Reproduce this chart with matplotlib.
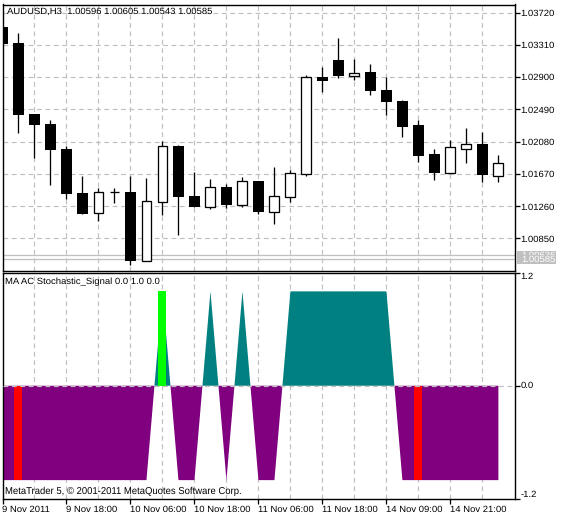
import matplotlib
matplotlib.use("Agg")
import matplotlib.pyplot as plt
from matplotlib.patches import Rectangle
import numpy as np

W, H = 567, 520
FONT = ["Liberation Sans", "DejaVu Sans"]
plt.rcParams["font.family"] = FONT
plt.rcParams["text.hinting"] = "none"

opens  = [1.03536,1.03333,1.02431,1.02304,1.01987,1.01428,1.01178,1.01436,1.01441,1.00569,1.01318,1.02020,1.01390,1.01254,1.01504,1.01280,1.01580,1.01191,1.01381,1.01669,1.02901,1.03117,1.02914,1.02964,1.02736,1.02596,1.02291,1.01923,1.01682,1.01991,1.02050,1.01648]
highs  = [1.03536,1.03460,1.02431,1.02351,1.02025,1.01648,1.01491,1.01491,1.01648,1.01618,1.02088,1.02037,1.01694,1.01606,1.01542,1.01631,1.01580,1.01758,1.01720,1.02926,1.03028,1.03396,1.03130,1.03066,1.02901,1.02609,1.02351,1.01987,1.02101,1.02253,1.02202,1.01910]
lows   = [1.03324,1.02194,1.01876,1.01529,1.01352,1.01161,1.01076,1.01305,1.00518,1.00569,1.01148,1.00894,1.01250,1.01225,1.01237,1.01250,1.01161,1.01034,1.01314,1.01644,1.02710,1.02888,1.02863,1.02672,1.02418,1.02139,1.01821,1.01593,1.01682,1.01809,1.01567,1.01567]
closes = [1.03324,1.02418,1.02291,1.01974,1.01419,1.01161,1.01436,1.01436,1.00569,1.01322,1.02020,1.01381,1.01250,1.01500,1.01275,1.01576,1.01187,1.01386,1.01678,1.02897,1.02850,1.02914,1.02947,1.02723,1.02583,1.02266,1.01898,1.01682,1.02008,1.02046,1.01656,1.01805]

signal = [-1,-1,-1,-1,-1,-1,-1,-1,-1,-1,1,-1,-1,1,-1,1,-1,-1,1,1,1,1,1,1,1,-1,-1,-1,-1,-1,-1,-1]
red_bars = [1, 26]
green_bars = [10]

price_ticks = [1.03720,1.03310,1.02900,1.02490,1.02080,1.01670,1.01260,1.00850]
indicator_ticks = [1.2, 0.0, -1.2]
time_ticks = [0, 4, 8, 12, 16, 20, 24, 28]
time_labels = ["9 Nov 2011","9 Nov 18:00","10 Nov 06:00","10 Nov 18:00","11 Nov 06:00","11 Nov 18:00","14 Nov 09:00","14 Nov 21:00"]
grid_bars = list(range(2, 32, 2))
bid_ask = [1.00636, 1.00585]
tag_labels = ["1.00636", "1.00585"]

title_main = "AUDUSD,H3  1.00596 1.00605 1.00543 1.00585"
title_sub = "MA AC Stochastic_Signal 0.0 1.0 0.0"
copyright_text = "MetaTrader 5, \u00a9 2001-2011 MetaQuotes Software Corp."

L, R = 2.5, 514.7
def rect(top, bottom):
    return [L / W, 1 - bottom / H, (R - L) / W, (bottom - top) / H]

fig = plt.figure(figsize=(W / 100, H / 100), dpi=100, facecolor="white")
ax = fig.add_axes(rect(4.5, 270.7))
sub = fig.add_axes(rect(272.5, 499.0))

PX = 0.72
GRID = "#c0c0c0"
FS = 6.8
xlim = (0.0, 32.02)

for a in (ax, sub):
    a.set_xlim(*xlim)
    for s in a.spines.values():
        s.set_linewidth(PX * 1.4)
        s.set_color("black")
    a.yaxis.tick_right()
    a.tick_params(axis="y", length=3.3, width=PX * 1.3, color="black", labelsize=FS, pad=1.0)
    a.tick_params(axis="x", length=3.3, width=PX * 1.3, color="black", labelsize=FS, pad=1.3)
    a.vlines(grid_bars, 0, 1, transform=a.get_xaxis_transform(), color=GRID,
             lw=PX * 1.2, linestyles=(0, (4, 3)), zorder=1)

# price panel
ax.set_ylim(1.00441, 1.03822)
ax.hlines(price_ticks, 0, 1, transform=ax.get_yaxis_transform(), color=GRID,
          lw=PX * 1.2, linestyles=(0, (4, 3)), zorder=1)
ax.hlines(bid_ask, 0, 1, transform=ax.get_yaxis_transform(), color="#c0c0c0", lw=PX * 1.3, zorder=1.5)
ax.set_xticks([])
ax.set_yticks(price_ticks, [f"{v:.5f}" for v in price_ticks])

x = np.arange(len(opens))
o, h, l, c = map(np.array, (opens, highs, lows, closes))
ax.vlines(x, l, h, color="black", lw=PX * 1.3, zorder=3)
up = c >= o
ax.bar(x[~up], (o - c)[~up], bottom=c[~up], width=0.66, color="black", edgecolor="black", lw=0, zorder=4)
ax.bar(x[up], (c - o)[up], bottom=o[up], width=0.62, color="white", edgecolor="black", lw=PX * 1.3, zorder=4)

ax.text((7 - L) / (R - L), 1 - 7.2 / 266.2, title_main, transform=ax.transAxes, fontsize=FS,
        ha="left", va="center", zorder=6)

# price tags: the second tag covers most of the first one
ytrans = ax.get_yaxis_transform()
px_price = (ax.get_ylim()[1] - ax.get_ylim()[0]) / 266.2
tag_h = 9.6 * px_price
tag_x = (516.7 - L) / (R - L)
tag_w = 39.3 / (R - L)
for k, (price, label) in enumerate(zip(bid_ask, tag_labels)):
    ax.add_patch(Rectangle((tag_x, price - tag_h / 2), tag_w, tag_h, transform=ytrans, clip_on=False,
                           facecolor="#c0c0c0", edgecolor="none", zorder=7 + k))
    ax.text((521 - L) / (R - L), price, label, transform=ytrans, clip_on=False, fontsize=FS,
            color="white", ha="left", va="center", zorder=7.5 + k)

# indicator panel
sub.set_ylim(-1.2, 1.2)
sig = np.array(signal, dtype=float)
sub.fill_between(x, sig, 0, where=sig > 0, interpolate=True, color="#008080", lw=0, zorder=2)
sub.fill_between(x, sig, 0, where=sig < 0, interpolate=True, color="#800080", lw=0, zorder=2)
sub.bar(red_bars, sig[red_bars], width=0.5, color="#ff0000", lw=0, zorder=2.5)
sub.bar(green_bars, sig[green_bars], width=0.5, color="#00ff00", lw=0, zorder=2.5)
sub.axhline(0, color=GRID, lw=PX * 1.2, linestyle=(0, (4, 3)), zorder=3)
sub.set_xticks(time_ticks, time_labels, ha="left")
sub.set_yticks(indicator_ticks, [f"{v:.1f}" for v in indicator_ticks])
labs = sub.get_yticklabels()
labs[0].set_va("top")
labs[1].set_va("center")
labs[2].set_va("bottom")
sub.text(0.004, 0.032, copyright_text, transform=sub.transAxes, fontsize=FS * 1.01, ha="left", va="center", zorder=6)
sub.text(0.0055, 0.9594, title_sub, transform=sub.transAxes, fontsize=FS, ha="left", va="center", zorder=6)

fig.savefig("out.png", dpi=100, facecolor="white")
